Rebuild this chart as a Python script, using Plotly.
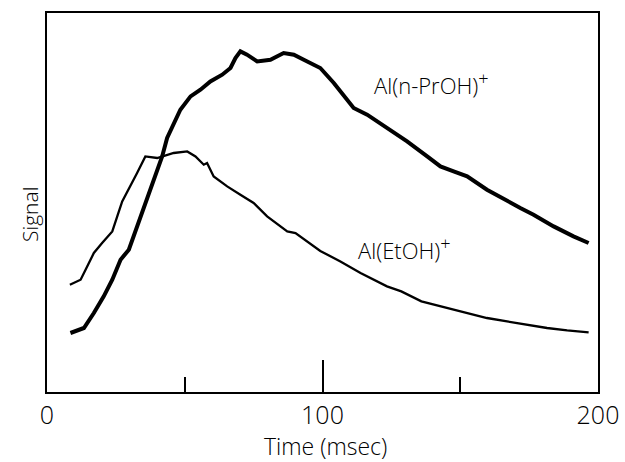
import plotly.graph_objects as go

# Al(EtOH)+ trace (time in msec, signal in arbitrary units)
etoh_time = [8.3, 12.2, 14.0, 17.0, 20.0, 23.7, 25.5, 27.3, 32.7, 35.7, 40.0, 46.0, 50.9,
             53.9, 56.9, 58.1, 60.5, 65.4, 70.2, 75.0, 79.9, 87.2, 90.2, 94.4, 99.2, 106.5,
             113.8, 123.4, 128.6, 135.9, 143.1, 150.3, 159.7, 167.0, 174.2, 181.5, 188.8, 196.6]
etoh_signal = [107.3, 112.3, 122.3, 139.0, 149.0, 160.6, 175.6, 190.6, 219.0, 235.6, 234.0,
               239.0, 240.6, 235.6, 227.3, 229.0, 215.6, 205.6, 197.3, 189.0, 175.6, 160.6,
               159.0, 150.6, 141.0, 130.6, 119.0, 105.6, 100.6, 90.6, 85.6, 80.6, 74.0, 70.6,
               67.3, 64.0, 61.6, 59.6]

# Al(n-PrOH)+ trace
prop_time = [8.5, 13.4, 17.0, 20.6, 23.7, 26.7, 29.7, 32.7, 36.4, 41.8, 43.6, 46.0, 48.4,
             52.1, 55.7, 59.3, 63.6, 66.6, 68.4, 70.2, 72.6, 76.3, 81.1, 85.9, 89.6, 93.2,
             96.8, 99.2, 104.1, 108.9, 111.3, 116.2, 123.4, 130.7, 138.0, 142.8, 147.6, 152.5,
             159.7, 167.0, 171.8, 176.6, 183.9, 191.1, 196.6]
prop_signal = [59.0, 64.0, 79.0, 95.6, 112.3, 132.3, 142.3, 165.6, 192.3, 235.6, 254.0, 269.0,
               282.3, 295.6, 302.3, 310.6, 317.3, 324.0, 334.0, 340.6, 337.3, 330.6, 332.3,
               339.0, 337.3, 332.3, 327.3, 324.0, 309.0, 292.3, 284.0, 277.3, 264.0, 250.6,
               235.6, 225.6, 220.6, 215.6, 202.3, 190.6, 184.0, 177.3, 165.6, 155.6, 149.0]

x_tickvals = [0, 100, 200]
x_ticktext = ["0", "100", "200"]

FONT = "Open Sans"
W = 300
PLUS = "<sup><span style='font-size:18px'>+</span></sup>"

fig = go.Figure()
fig.add_trace(go.Scatter(x=etoh_time, y=etoh_signal, mode="lines",
                         line=dict(color="black", width=2.3), showlegend=False))
fig.add_trace(go.Scatter(x=prop_time, y=prop_signal, mode="lines",
                         line=dict(color="black", width=4), showlegend=False))

fig.add_annotation(x=118, y=309, xref="x", yref="y", text="Al(n-PrOH)" + PLUS,
                   showarrow=False, xanchor="left", yanchor="middle",
                   font=dict(family=FONT, size=22, color="black", weight=W))
fig.add_annotation(x=112, y=144, xref="x", yref="y", text="Al(EtOH)" + PLUS,
                   showarrow=False, xanchor="left", yanchor="middle",
                   font=dict(family=FONT, size=22, color="black", weight=W))
fig.add_annotation(x=0, xref="paper", xshift=-17, y=177, yref="y", text="Signal",
                   textangle=-90, showarrow=False, xanchor="center", yanchor="middle",
                   font=dict(family=FONT, size=21, color="black", weight=W))
fig.add_annotation(x=0.505, xref="paper", y=0, yref="paper", yshift=-54,
                   text="Time (msec)", showarrow=False, xanchor="center", yanchor="middle",
                   font=dict(family=FONT, size=23, color="black", weight=W))

fig.update_layout(
    width=625, height=462,
    margin=dict(l=47, r=27, t=13, b=70, autoexpand=False),
    paper_bgcolor="white", plot_bgcolor="white",
    font=dict(family=FONT, color="black", weight=W),
    xaxis=dict(range=[0, 200], tickvals=x_tickvals, ticktext=x_ticktext,
               ticks="inside", ticklen=32, tickwidth=1.5, tickcolor="black",
               minor=dict(dtick=50, ticks="inside", ticklen=15, tickwidth=1.5, tickcolor="black"),
               showline=True, linecolor="black", linewidth=2, mirror=True,
               showgrid=False, zeroline=False, automargin=False,
               tickfont=dict(size=25, family=FONT, color="black", weight=W)),
    yaxis=dict(range=[0, 379], showticklabels=False, ticks="",
               showline=True, linecolor="black", linewidth=2, mirror=True,
               showgrid=False, zeroline=False, automargin=False),
)

fig.write_html("out.html", config={"displayModeBar": False},
               post_script="document.body.style.margin='0';")
